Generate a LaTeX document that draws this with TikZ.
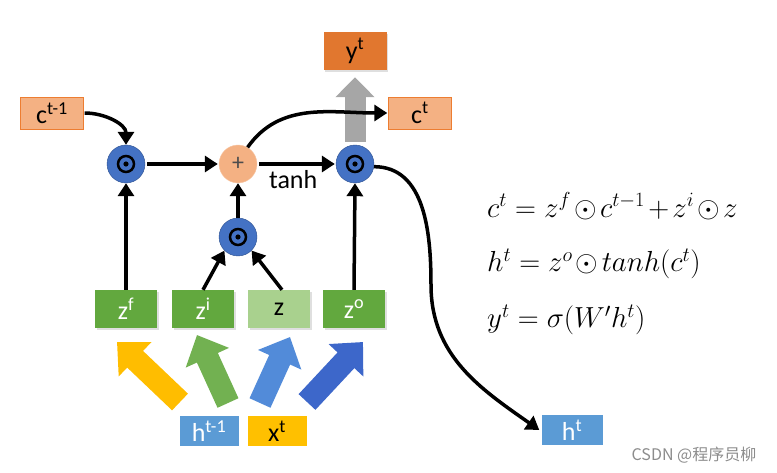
\documentclass[tikz,border=0pt]{standalone}
\usepackage{fix-cm}
\usepackage{fontspec}
\usepackage{amsmath}
\usepackage{tikz,xcolor}
\usetikzlibrary{arrows.meta,shadows}
\setmainfont{Carlito}
\newfontfamily\cjkfont{Noto Sans CJK SC}

\definecolor{cellsalmon}{HTML}{F4B183}
\definecolor{cellorange}{HTML}{ED7D31}
\definecolor{gategreen}{HTML}{62A83E}
\definecolor{gatelight}{HTML}{A9D18E}
\definecolor{inblue}{HTML}{5B9BD5}
\definecolor{ingold}{HTML}{FFC000}
\definecolor{prodblue}{HTML}{4472C4}
\definecolor{prodedge}{HTML}{2F528F}

\tikzstyle{box} = [rectangle, minimum width=63pt, minimum height=32pt, inner sep=0pt,
    font=\fontsize{26}{28}\selectfont]
\tikzset{cellbox/.style={box, fill=cellsalmon, draw=cellorange, thin},
    gatebox/.style={box, minimum width=62pt, minimum height=38pt, fill=gategreen, text=white,
        drop shadow={shadow xshift=1.5pt, shadow yshift=-2pt, opacity=0.25}},
    inbox/.style={box, minimum width=59pt, minimum height=30pt},
    prod/.style={circle, minimum size=38pt, inner sep=0pt, fill=prodblue, draw=prodedge, thin,
        path picture={\draw[black, line width=2.5pt] (path picture bounding box.center) circle (8pt);
            \fill[black] (path picture bounding box.center) circle (2.6pt);}},
    flow/.style={line width=3.5pt, -{Triangle[length=13pt, width=16pt]}},
    fat/.style={line width=23pt, -{Triangle[length=25pt, width=46pt]}}}

\begin{document}
\begin{tikzpicture}[x=1pt, y=1pt]
    \useasboundingbox (0,0) rectangle (777,472);
    % Definition of the cell
    \node[cellbox] (cprev) at (52,359) {c\textsuperscript{t-1}};
    \node[cellbox] (ct) at (420,359) {c\textsuperscript{t}};
    \node[box, minimum height=38pt, fill=cellorange!95!black,
        drop shadow={shadow xshift=1.5pt, shadow yshift=-2pt, opacity=0.25}] (yt) at (355,421) {y\textsuperscript{t}};
    \node[prod] (forget) at (126,308) {};
    \node[circle, minimum size=38pt, inner sep=0pt, fill=cellsalmon, draw=cellsalmon!70,
        text=black!70, font=\fontsize{24}{24}\selectfont] (plus) at (238,308) {+};
    \node[prod] (output) at (355,308) {};
    \node[prod] (input) at (238,235) {};
    %
    \node[gatebox] (zf) at (126,163) {z\textsuperscript{f}};
    \node[gatebox] (zi) at (203,163) {z\textsuperscript{i}};
    \node[gatebox, fill=gatelight, text=black] (zz) at (279,163) {z};
    \node[gatebox] (zo) at (354,163) {z\textsuperscript{o}};
    %
    \node[inbox, fill=inblue, text=white] (hprev) at (209,41) {h\textsuperscript{t-1}};
    \node[inbox, fill=ingold] (xt) at (277,41) {x\textsuperscript{t}};
    \node[inbox, minimum width=61pt, fill=inblue, text=white] (ht) at (572,42) {h\textsuperscript{t}};
    % The fat input arrows
    \coordinate (a1) at (180,70);  \coordinate (b1) at (117,130);
    \coordinate (a2) at (228,69);  \coordinate (b2) at (197,137);
    \coordinate (a3) at (260,69);  \coordinate (b3) at (290,135);
    \coordinate (a4) at (307,70);  \coordinate (b4) at (363,130);
    \draw[fat, color=ingold!95!orange] (a1) -- (b1);
    \draw[fat, color=gategreen!90!white] (a2) -- (b2);
    \draw[fat, color=inblue!90!blue] (a3) -- (b3);
    \draw[fat, color=prodblue!90!blue] (a4) -- (b4);
    \draw[line width=21pt, -{Triangle[length=20pt, width=38pt]}, color=black!35,
        shorten <=3pt, shorten >=7pt] (output.north) -- (yt.south);
    % Connectors
    \draw[flow] (cprev.east) ++(1,0) to[out=0, in=90] (forget.north);
    \draw[flow] (forget.east) ++(2,0) -- ([xshift=-1pt]plus.west);
    \draw[flow] (plus.east) ++(2,0) -- ([xshift=-1pt]output.west)
        node[pos=0.45, below=1pt, font=\fontsize{26}{28}\selectfont] (tanh) {tanh};
    \draw[flow] (plus.60) to[out=55, in=180] ([xshift=-1pt]ct.west);
    \draw[flow] (zf.north) -- (forget.south);
    \draw[flow] (zo.north) -- (output.south);
    \draw[flow] (zi.north) -- (input.-135);
    \draw[flow] ([xshift=3pt]zz.north) -- (input.-45);
    \draw[flow] (input.north) -- (plus.south);
    \coordinate (bend) at (431,187);
    \draw[flow] (output.-8) to[out=0, in=90] (bend) to[out=-90, in=145] ([xshift=-2pt]ht.west);
    % Equations
    \begin{scope}[every node/.style={anchor=west, inner sep=0pt, font=\fontsize{29}{34}\selectfont}]
    \node (eqc) at (487,266) {\medmuskip=2mu $c^t = z^f\odot c^{t-1}+z^i\odot z$};
    \node (eqh) at (487,208) {\medmuskip=2mu $h^t = z^o\odot tanh(c^t)$};
    \node (eqy) at (487,152) {$y^t = \sigma(W'h^t)$};
    \end{scope}
    \node[text=black!45, font=\cjkfont\fontsize{16}{18}\selectfont] (mark) at (694,17) {CSDN @程序员柳};
\end{tikzpicture}
\end{document}
